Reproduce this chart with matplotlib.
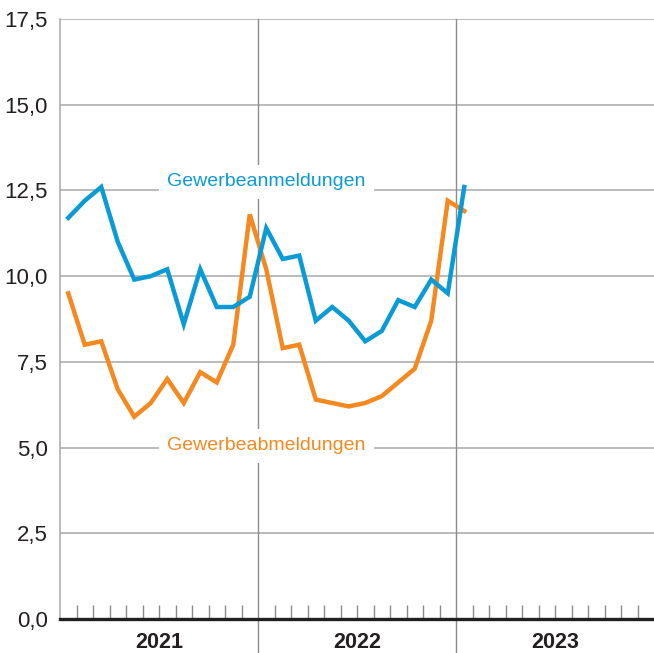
import numpy as np
import matplotlib
matplotlib.use("Agg")
import matplotlib.pyplot as plt
import matplotlib.transforms as mtransforms

# monthly values, Jan 2021 .. Jan 2023
anmeldungen = [11.7, 12.2, 12.6, 11.0, 9.9, 10.0, 10.2, 8.6, 10.2, 9.1, 9.1, 9.4,
               11.4, 10.5, 10.6, 8.7, 9.1, 8.7, 8.1, 8.4, 9.3, 9.1, 9.9, 9.5,
               12.6]
abmeldungen = [9.5, 8.0, 8.1, 6.7, 5.9, 6.3, 7.0, 6.3, 7.2, 6.9, 8.0, 11.8,
               10.2, 7.9, 8.0, 6.4, 6.3, 6.2, 6.3, 6.5, 6.9, 7.3, 8.7, 12.2,
               11.9]
years = ["2021", "2022", "2023"]
yticks = [0.0, 2.5, 5.0, 7.5, 10.0, 12.5, 15.0, 17.5]

BLUE = "#0a9ad6"
ORANGE = "#f5881f"
GRID = "#a8a8a8"
INK = "#231f20"

plt.rcParams["font.family"] = ["Liberation Sans", "DejaVu Sans"]

fig = plt.figure(figsize=(6.54, 6.53), dpi=100)
ax = fig.add_axes([60 / 654, 1 - 619 / 653, 1 - 60 / 654, 600 / 653])

months = np.arange(len(anmeldungen))
ax.set_xlim(-0.5, 35.5)
ax.set_ylim(0, 17.5)

# horizontal grid
for v in yticks[1:]:
    ax.axhline(v, color=GRID, lw=1.1, zorder=1)

# year separators, running below the baseline
trans = mtransforms.blended_transform_factory(ax.transData, ax.transAxes)
for xb in [11.5, 23.5]:
    ax.plot([xb, xb], [-0.06, 1.0], color="#8c8c8c", lw=1.0, transform=trans,
            clip_on=False, zorder=1)

# month ticks standing on the baseline
minor = [m - 0.5 for m in range(1, 36) if m % 12 != 0]
ax.vlines(minor, 0, 0.42, color="#8c8c8c", lw=1.0, zorder=2)

ax.plot(months, abmeldungen, color=ORANGE, lw=3.2, zorder=4,
        solid_joinstyle="miter")
ax.plot(months, anmeldungen, color=BLUE, lw=3.2, zorder=5,
        solid_joinstyle="miter")

box = dict(facecolor="white", edgecolor="none", pad=6)
ax.text(12.0, 12.75, "Gewerbeanmeldungen", color=BLUE, fontsize=14,
        ha="center", va="center", bbox=box, zorder=3)
ax.text(12.0, 5.05, "Gewerbeabmeldungen", color=ORANGE, fontsize=14,
        ha="center", va="center", bbox=box, zorder=3)

# axes styling
for s in ["top", "right"]:
    ax.spines[s].set_visible(False)
ax.spines["left"].set_color(GRID)
ax.spines["left"].set_linewidth(1.1)
ax.spines["bottom"].set_color(INK)
ax.spines["bottom"].set_linewidth(2.4)
ax.spines["bottom"].set_zorder(6)

ax.set_yticks(yticks)
ax.set_yticklabels([("%.1f" % v).replace(".", ",") for v in yticks])
ax.tick_params(axis="y", length=0, pad=9, labelsize=16, labelcolor=INK)

ax.set_xticks([5.5, 17.5, 29.5])
ax.set_xticklabels(years, fontweight="bold")
ax.tick_params(axis="x", which="major", length=0, pad=9, labelsize=15.5,
               labelcolor=INK)

fig.savefig("out.png", dpi=100, facecolor="white")
